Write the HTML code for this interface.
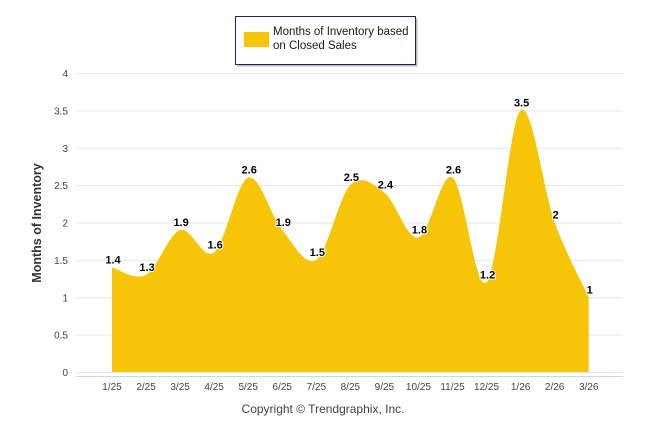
<!DOCTYPE html>
<html><head><meta charset="utf-8"><style>
body{margin:0;background:#fff;width:646px;height:434px;overflow:hidden;font-family:"Liberation Sans",sans-serif}
</style></head><body>
<svg id="c" width="646" height="434" xmlns="http://www.w3.org/2000/svg">
<g>
<rect x="237.5" y="18.5" width="180" height="48" fill="#bbb" stroke="none"/>
<rect x="235.5" y="16.5" width="180" height="48" fill="#fff" stroke="#1a2a5a" stroke-width="1"/>
<rect x="244" y="32" width="25" height="15" fill="#F7C508"/>
<text x="273" y="35" font-size="11.5" fill="#1a1a1a">Months of Inventory based</text>
<text x="273" y="49" font-size="11.5" fill="#1a1a1a">on Closed Sales</text>
</g>
<text transform="translate(41,223) rotate(-90)" text-anchor="middle" font-size="12.5" font-weight="bold" fill="#333">Months of Inventory</text>
<text x="323" y="413" text-anchor="middle" font-size="12" fill="#444">Copyright © Trendgraphix, Inc.</text>
<g id="grid"></g><g id="area"></g><g id="labels"></g>
</svg>
<script>
const categories=["1/25","2/25","3/25","4/25","5/25","6/25","7/25","8/25","9/25","10/25","11/25","12/25","1/26","2/26","3/26"];
const values=[1.4,1.3,1.9,1.6,2.6,1.9,1.5,2.5,2.4,1.8,2.6,1.2,3.5,2,1];
const yTicks=[0,0.5,1,1.5,2,2.5,3,3.5,4];
const NS="http://www.w3.org/2000/svg";
const x=i=>112+i*34.05;
const y=v=>372-v*74.75;
function mk(t,a,p){const e=document.createElementNS(NS,t);for(const k in a)e.setAttribute(k,a[k]);p.appendChild(e);return e;}
const grid=document.getElementById('grid');
yTicks.forEach(v=>{
 const l=mk('line',{x1:76,x2:623,y1:y(v)+.5,y2:y(v)+.5,stroke:'#e6e6e6'},grid);
 
 
 const t=mk('text',{x:68,y:y(v)+4,'text-anchor':'end','font-size':'10',fill:'#444'},grid);
 
 
 t.textContent=String(v);
});
const ax=mk('line',{x1:76,x2:623,y1:376.5,y2:376.5,stroke:'#ccd6eb'},grid);


categories.forEach((c,i)=>{
 const t=mk('text',{x:x(i),y:390,'text-anchor':'middle','font-size':'10',fill:'#444'},grid);
 
 
 t.textContent=c;
});
// Catmull-Rom spline
const pts=values.map((v,i)=>[x(i),y(v)]);
let d='M'+pts[0][0]+','+pts[0][1];
const k=1/6;
for(let i=0;i<pts.length-1;i++){
 const p0=pts[i-1]||pts[i],p1=pts[i],p2=pts[i+1],p3=pts[i+2]||pts[i+1];
 const c1=[p1[0]+(p2[0]-p0[0])*k,p1[1]+(p2[1]-p0[1])*k];
 const c2=[p2[0]-(p3[0]-p1[0])*k,p2[1]-(p3[1]-p1[1])*k];
 d+=` C${c1[0]},${c1[1]} ${c2[0]},${c2[1]} ${p2[0]},${p2[1]}`;
}
d+=` L${pts[pts.length-1][0]},${y(0)} L${pts[0][0]},${y(0)} Z`;
const area=mk('path',{d:d,fill:'#F7C508'},document.getElementById('area'));


values.forEach((v,i)=>{
 const t=mk('text',{x:x(i)+1,y:y(v)-4,'text-anchor':'middle','font-size':'11','font-weight':'bold',fill:'#000',stroke:'#fff','stroke-width':'2','paint-order':'stroke'},document.getElementById('labels'));
 
 
 t.textContent=String(v);
});
</script>
</body></html>
